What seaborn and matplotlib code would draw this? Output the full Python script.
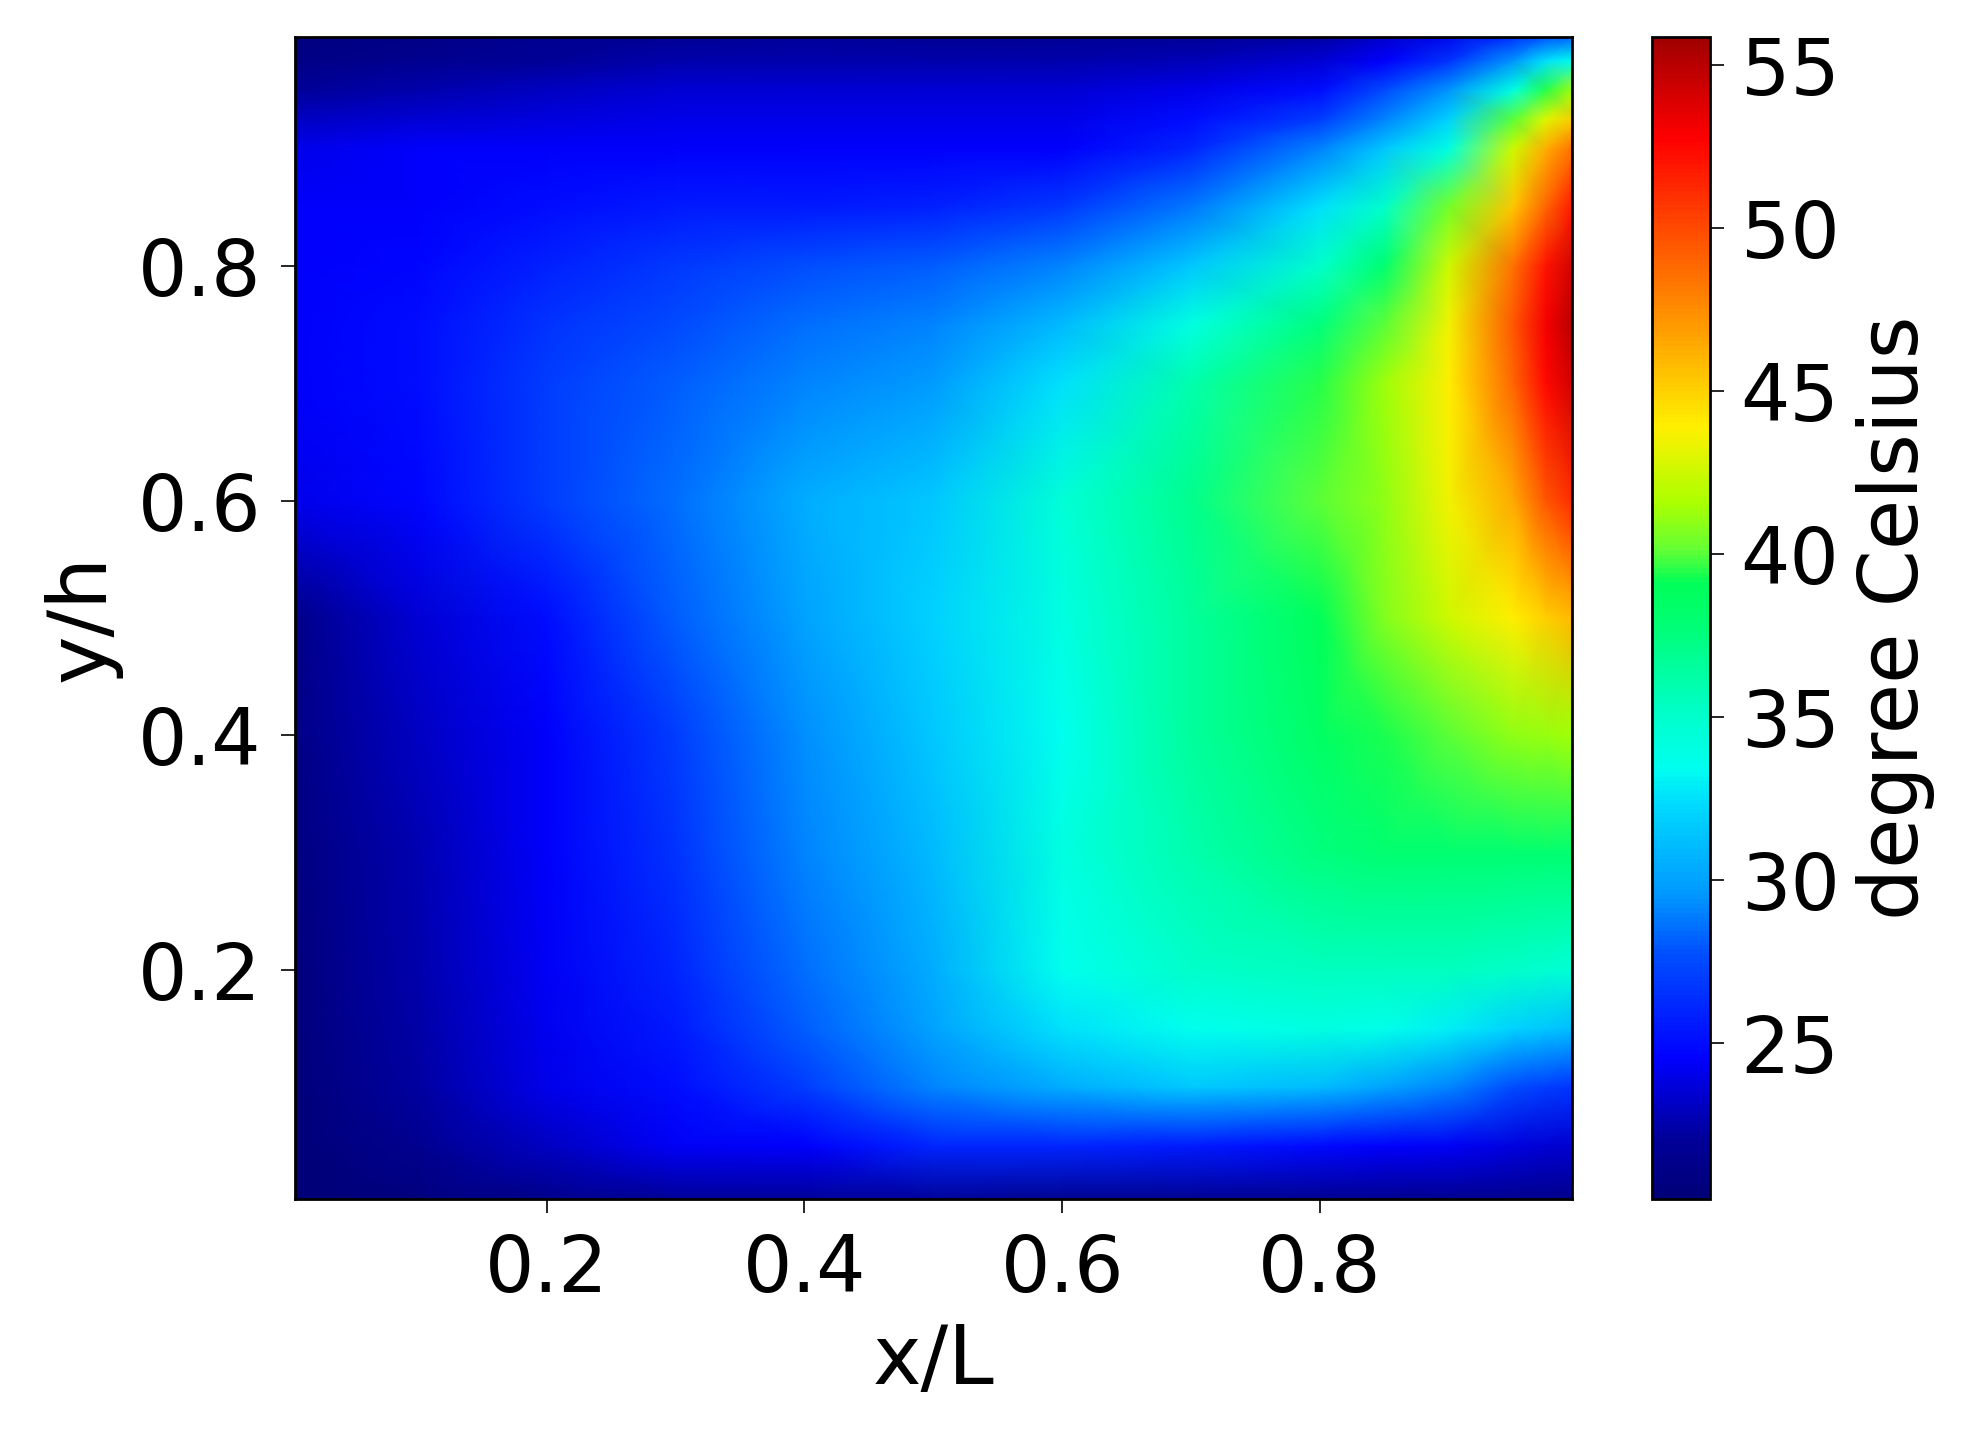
import numpy as np
import matplotlib
matplotlib.use('Agg')
import matplotlib.pyplot as plt
import seaborn as sns
from matplotlib.colors import LinearSegmentedColormap

# grid nodes (x/L, y/h) and temperatures, deg C
x_nodes = [0.0, 0.1, 0.2, 0.3, 0.4, 0.5, 0.6, 0.7, 0.8, 0.85, 0.9, 0.95, 0.975, 1.0]
y_nodes = [0.0, 0.05, 0.1, 0.15, 0.2, 0.3, 0.4, 0.5, 0.6, 0.7, 0.75, 0.8, 0.85,
           0.9, 0.925, 0.95, 0.975, 1.0]

t_y000 = [20.2, 20.5, 21.0, 21.5, 21.5, 21.5, 21.0, 21.0, 21.0, 21.0, 21.0, 21.0, 21.0, 21.0]
t_y005 = [20.3, 21.5, 23.0, 24.3, 24.5, 26.0, 26.0, 25.5, 24.8, 24.5, 24.3, 23.8, 23.5, 23.3]
t_y010 = [20.3, 22.2, 24.0, 25.0, 27.0, 29.0, 30.5, 31.5, 31.0, 30.0, 29.0, 27.5, 27.0, 26.5]
t_y015 = [20.4, 22.3, 24.1, 25.5, 28.0, 30.0, 32.5, 33.5, 34.0, 33.7, 33.0, 32.0, 31.5, 31.0]
t_y020 = [20.4, 22.5, 24.3, 26.0, 28.5, 30.5, 33.5, 35.0, 35.5, 35.5, 35.5, 35.0, 34.7, 34.5]
t_y030 = [20.5, 22.7, 24.5, 26.5, 29.0, 31.0, 34.0, 36.0, 37.5, 38.0, 38.0, 38.0, 38.0, 38.0]
t_y040 = [20.8, 23.0, 24.5, 27.0, 29.3, 31.5, 33.5, 36.5, 38.5, 39.3, 40.0, 41.0, 41.2, 41.5]
t_y050 = [21.0, 23.5, 25.0, 28.0, 30.0, 32.0, 34.0, 36.5, 39.0, 40.7, 42.5, 44.0, 45.0, 46.0]
t_y060 = [24.0, 24.7, 27.0, 28.5, 30.5, 31.5, 34.5, 37.0, 40.0, 41.0, 43.5, 46.5, 49.5, 51.5]
t_y070 = [24.5, 25.0, 27.0, 28.0, 29.0, 29.7, 32.5, 36.0, 39.5, 41.3, 44.0, 49.0, 52.5, 54.5]
t_y075 = [24.5, 25.0, 26.5, 27.5, 28.5, 29.0, 31.0, 34.0, 37.5, 40.0, 43.5, 49.5, 53.0, 55.5]
t_y080 = [24.5, 24.7, 25.8, 26.8, 27.7, 28.0, 29.0, 31.5, 35.0, 38.0, 42.5, 48.5, 52.0, 54.5]
t_y085 = [24.5, 24.5, 25.0, 25.5, 25.5, 25.8, 26.8, 28.7, 32.5, 35.0, 40.5, 45.5, 49.0, 52.5]
t_y090 = [24.0, 24.5, 24.5, 24.5, 24.5, 24.5, 24.5, 26.0, 29.0, 31.5, 34.0, 42.5, 46.3, 49.0]
t_y0925 = [23.0, 23.5, 23.8, 24.0, 24.0, 24.0, 24.0, 25.0, 27.0, 29.0, 32.0, 40.0, 43.0, 45.5]
t_y095 = [22.0, 22.5, 23.0, 23.5, 23.5, 23.5, 23.5, 24.0, 25.0, 27.5, 29.5, 34.0, 39.5, 42.0]
t_y0975 = [21.0, 21.5, 22.0, 22.5, 22.5, 22.5, 22.5, 22.8, 23.5, 24.5, 26.5, 29.5, 32.5, 33.5]
t_y100 = [20.5, 21.0, 21.5, 21.5, 22.0, 21.5, 21.5, 21.5, 22.0, 23.0, 24.0, 25.5, 26.5, 27.5]

temps = np.array([t_y000, t_y005, t_y010, t_y015, t_y020, t_y030, t_y040, t_y050,
                  t_y060, t_y070, t_y075, t_y080, t_y085, t_y090, t_y0925, t_y095,
                  t_y0975, t_y100])

cbar_ticks = [25, 30, 35, 40, 45, 50, 55]
t_min, t_max = 20.2, 55.85

# jet-like colour scale as it looks in the figure
cmap = LinearSegmentedColormap.from_list('jet_vivid', [
    (0.00, (0.00, 0.00, 0.47)),
    (0.05, (0.00, 0.00, 0.60)),
    (0.12, (0.00, 0.00, 1.00)),
    (0.21, (0.00, 0.31, 1.00)),
    (0.26, (0.00, 0.59, 1.00)),
    (0.34, (0.00, 0.86, 1.00)),
    (0.37, (0.00, 1.00, 0.94)),
    (0.42, (0.00, 1.00, 0.78)),
    (0.50, (0.00, 1.00, 0.43)),
    (0.53, (0.00, 1.00, 0.35)),
    (0.56, (0.40, 1.00, 0.20)),
    (0.60, (0.67, 1.00, 0.00)),
    (0.665, (1.00, 0.94, 0.00)),
    (0.777, (1.00, 0.51, 0.00)),
    (0.914, (1.00, 0.00, 0.00)),
    (1.00, (0.63, 0.00, 0.00)),
])

sns.set_style('ticks')
plt.rcParams['font.family'] = ['DejaVu Sans']
for key in ['text.color', 'axes.labelcolor', 'xtick.color', 'ytick.color', 'axes.edgecolor']:
    plt.rcParams[key] = 'black'
fs_tick = 56
fs_label = 59

fig = plt.figure(figsize=(19.62, 14.29), dpi=100)
ax = fig.add_axes([0.1504, 0.161, 0.6506, 0.813])
cax = fig.add_axes([0.842, 0.161, 0.0296, 0.813])

X, Y = np.meshgrid(x_nodes, y_nodes)
mesh = ax.pcolormesh(X, Y, temps, shading='gouraud', cmap=cmap, vmin=t_min, vmax=t_max)

ax.set_xlim(0.005, 0.995)
ax.set_ylim(0.005, 0.995)
ax.set_xticks([0.2, 0.4, 0.6, 0.8])
ax.set_yticks([0.2, 0.4, 0.6, 0.8])
ax.set_xlabel('x/L', fontsize=fs_label, labelpad=10)
ax.set_ylabel('y/h', fontsize=fs_label, labelpad=12)
ax.tick_params(labelsize=fs_tick, length=10, width=1.2, pad=14)
for s in ax.spines.values():
    s.set_linewidth(2)

cb = fig.colorbar(mesh, cax=cax)
cb.set_ticks(cbar_ticks)
cb.set_label('degree Celsius', fontsize=fs_label, labelpad=12)
cb.ax.tick_params(labelsize=fs_tick, length=10, width=1.2, pad=12)
cb.outline.set_linewidth(2)

fig.savefig('out.png', dpi=100)
